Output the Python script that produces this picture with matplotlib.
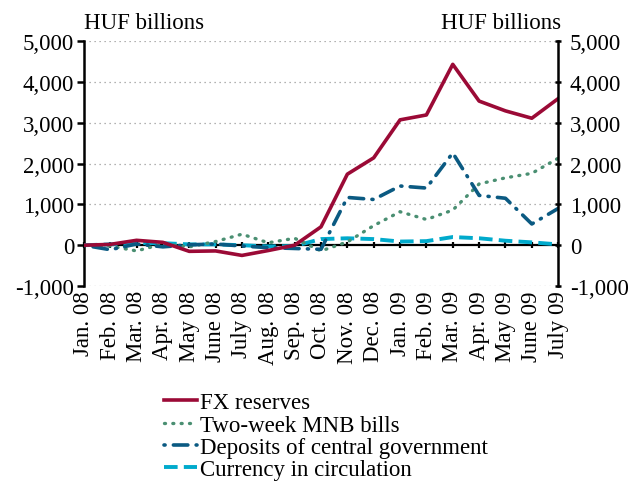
import matplotlib.pyplot as plt
import matplotlib.ticker as mticker
import numpy as np

plt.rcParams['font.family'] = ['Liberation Serif', 'DejaVu Serif']

months = ['Jan. 08', 'Feb. 08', 'Mar. 08', 'Apr. 08', 'May 08', 'June 08',
          'July 08', 'Aug. 08', 'Sep. 08', 'Oct. 08', 'Nov. 08', 'Dec. 08',
          'Jan. 09', 'Feb. 09', 'Mar. 09', 'Apr. 09', 'May 09', 'June 09',
          'July 09']

fx_reserves = [0, 20, 120, 70, -150, -140, -250, -130, 0, 450, 1740, 2140,
               3070, 3190, 4430, 3530, 3290, 3110, 3590]
mnb_bills = [0, -20, -140, 30, -40, 90, 270, 60, 170, -140, 80, 480,
             820, 630, 860, 1500, 1650, 1760, 2130]
gov_deposits = [0, -110, 30, -40, 10, 30, -20, -60, -80, -100, 1170, 1120,
                1450, 1400, 2260, 1220, 1150, 520, 900]
currency = [0, 20, 50, 50, 20, 20, 0, -30, -20, 150, 170, 150,
            90, 100, 200, 170, 110, 70, 20]

x = np.arange(len(months))
fs = 16.5

fig = plt.figure(figsize=(6.35, 4.89), dpi=100)
ax = fig.add_axes([0.132, 0.413, 0.747, 0.501])

ax.plot(x, fx_reserves, color='#9b0a36', lw=2.6, label='FX reserves', zorder=5)
ax.plot(x, mnb_bills, color='#4a8f72', lw=2.4, linestyle=(0, (0.3, 2.2)),
        dash_capstyle='round', label='Two-week MNB bills', zorder=4)
ax.plot(x, gov_deposits, color='#0b5a82', lw=2.6,
        linestyle=(0, (0.3, 2.3, 4, 2.3)), dash_capstyle='round',
        label='Deposits of central government', zorder=4)
ax.plot(x, currency, color='#00aacc', lw=2.8, linestyle=(0, (3.5, 1.6)),
        label='Currency in circulation', zorder=3)

ax.set_xlim(0, len(months) - 1)
ax.set_ylim(-1000, 5000)
ax.set_yticks(range(-1000, 5001, 1000))
fmt = mticker.FuncFormatter(lambda v, p: '{:,.0f}'.format(v))
ax.yaxis.set_major_formatter(fmt)
for v in range(1000, 5001, 1000):
    ax.axhline(v, color='#999999', lw=0.9, linestyle=(0, (1, 3)), zorder=1)
ax.axhline(-1000, color='#999999', lw=0.9, linestyle=(0, (1, 3)), zorder=1)
ax.axhline(0, color='black', lw=1.6, zorder=2)

for s in ['top', 'bottom']:
    ax.spines[s].set_visible(False)
ax.spines['left'].set_linewidth(1.8)
ax.spines['right'].set_visible(False)

ax.set_xticks(x)
ax.set_xticklabels(months, rotation=90, fontsize=fs)
ax.tick_params(axis='x', length=0, pad=3)
ax.tick_params(axis='y', labelsize=fs, width=1.8, length=5, direction='out', pad=2)

# tick marks along the zero line
sec = ax.secondary_xaxis(1000 / 6000)
sec.set_xticks(x)
sec.set_xticklabels([])
sec.spines['bottom'].set_visible(False)
sec.tick_params(length=4, width=1.6, direction='inout', top=False, bottom=True)

ax2 = ax.twinx()
ax2.set_ylim(ax.get_ylim())
ax2.set_yticks(range(-1000, 5001, 1000))
ax2.yaxis.set_major_formatter(fmt)
for s in ['top', 'bottom', 'left']:
    ax2.spines[s].set_visible(False)
ax2.spines['right'].set_linewidth(1.8)
ax2.tick_params(axis='y', labelsize=fs, width=1.8, length=5, direction='inout', pad=6)

fig.text(0.133, 0.93, 'HUF billions', fontsize=fs, ha='left', va='bottom')
fig.text(0.884, 0.93, 'HUF billions', fontsize=fs, ha='right', va='bottom')

ax.legend(loc='upper left', bbox_to_anchor=(0.258, 0.196),
          bbox_transform=fig.transFigure, frameon=False, fontsize=fs,
          handlelength=1.45, handletextpad=0.15, labelspacing=0.06,
          borderpad=0, borderaxespad=0)

fig.savefig('out.png', dpi=100)
